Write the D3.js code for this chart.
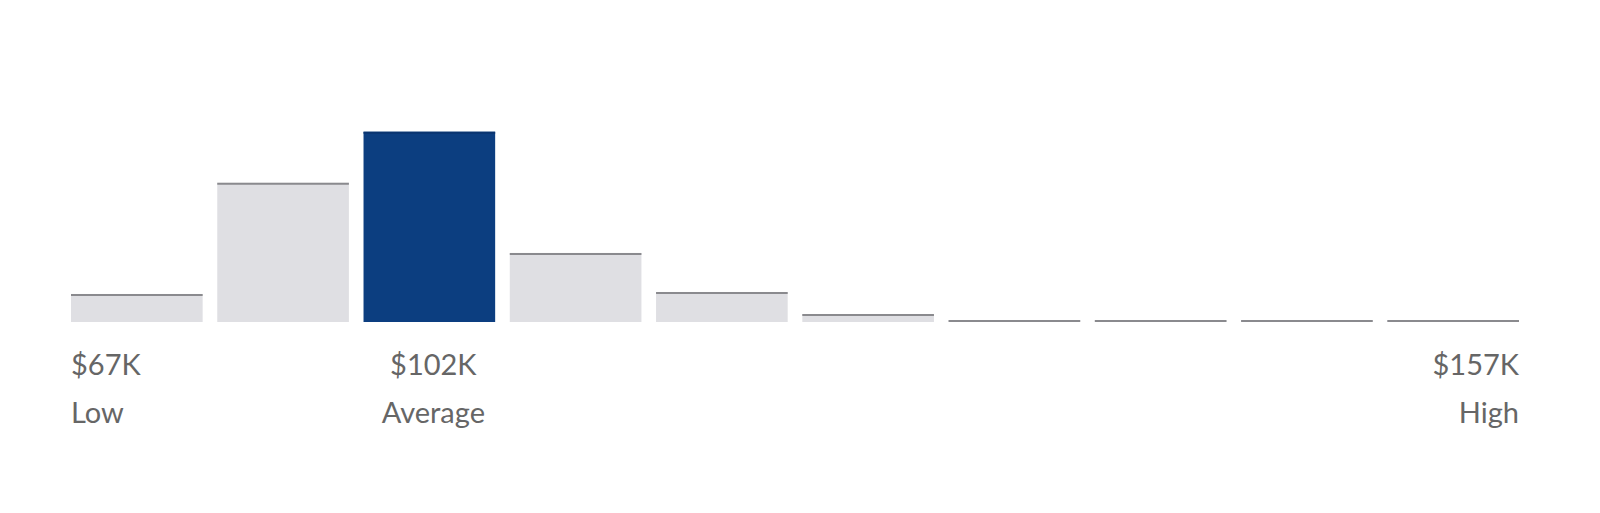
<!DOCTYPE html>
<html>
<head>
<meta charset="utf-8">
<script src="https://cdn.jsdelivr.net/npm/d3@7"></script>
<style>
  body { margin: 0; background: #fff; }
  .label { font-family: Lato, "Open Sans", sans-serif; fill: #666; font-size: 29px; }
</style>
</head>
<body>
<script>
// salary bins, relative share per bin
var bins = ["b1", "b2", "b3", "b4", "b5", "b6", "b7", "b8", "b9", "b10"];
var shares = [28, 139, 190, 69, 30, 8, 2, 2, 2, 2];
var highlightBin = "b3";

// labels under the chart
var valueLabels = ["$67K", "$102K", "$157K"];
var nameLabels = ["Low", "Average", "High"];
var labelBins = ["b1", "b3", "b10"];
var labelAnchors = ["start", "middle", "end"];

var svgWidth = 1600;
var svgHeight = 513;

var svg = d3.select("body")
  .append("svg")
  .attr("width", svgWidth)
  .attr("height", svgHeight);

var baseline = 322;

var xBandScale = d3.scaleBand()
  .domain(bins)
  .range([71, 1519])
  .paddingInner(0.1)
  .paddingOuter(0);

var yLinearScale = d3.scaleLinear()
  .domain([0, 190])
  .range([baseline, 131.7]);

var chartGroup = svg.append("g");

chartGroup.selectAll(".bar")
  .data(bins)
  .enter()
  .append("rect")
  .attr("class", "bar")
  .attr("x", d => xBandScale(d))
  .attr("y", (d, i) => yLinearScale(shares[i]))
  .attr("width", xBandScale.bandwidth())
  .attr("height", (d, i) => baseline - yLinearScale(shares[i]))
  .attr("fill", d => d === highlightBin ? "#0c3e80" : "#dfdfe3");

// thin darker line on top of every bar
chartGroup.selectAll(".topline")
  .data(bins)
  .enter()
  .append("line")
  .attr("class", "topline")
  .attr("x1", d => xBandScale(d))
  .attr("x2", d => xBandScale(d) + xBandScale.bandwidth())
  .attr("y1", (d, i) => yLinearScale(shares[i]) + 1)
  .attr("y2", (d, i) => yLinearScale(shares[i]) + 1)
  .attr("stroke", d => d === highlightBin ? "#0a3570" : "#8a8a8e")
  .attr("stroke-width", 2);

function labelX(i) {
  var b = labelBins[i];
  if (labelAnchors[i] === "start") return xBandScale(b);
  if (labelAnchors[i] === "end") return xBandScale(b) + xBandScale.bandwidth();
  return xBandScale(b) + xBandScale.bandwidth() / 2 + 4;
}

svg.selectAll(".value-label")
  .data(valueLabels)
  .enter()
  .append("text")
  .attr("class", "label value-label")
  .attr("x", (d, i) => labelX(i))
  .attr("y", 375)
  .attr("text-anchor", (d, i) => labelAnchors[i])
  .text(d => d);

svg.selectAll(".name-label")
  .data(nameLabels)
  .enter()
  .append("text")
  .attr("class", "label name-label")
  .attr("x", (d, i) => labelX(i))
  .attr("y", 423)
  .attr("text-anchor", (d, i) => labelAnchors[i])
  .text(d => d);
</script>
</body>
</html>
